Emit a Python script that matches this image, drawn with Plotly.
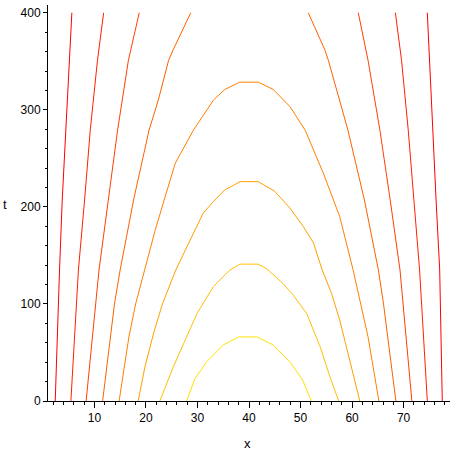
import plotly.graph_objects as go

# Contour lines (x, t); outermost (red) to innermost (yellow)
c1_left_x = [2.4, 2.95, 3.24, 3.76, 4.45, 5.05, 5.63]
c1_left_t = [0, 100, 135, 207, 279, 351, 400]
c1_right_x = [77.5, 77.1, 77.0, 76.3, 75.7, 75.1, 74.6]
c1_right_t = [0, 100, 135, 207, 279, 351, 400]

c2_left_x = [5.44, 6.5, 6.9, 8.1, 9.2, 10.6, 11.8]
c2_left_t = [0, 100, 135, 207, 279, 351, 400]
c2_right_x = [74.6, 73.5, 73.1, 72.0, 70.9, 69.6, 68.4]
c2_right_t = [0, 100, 135, 207, 279, 351, 400]

c3_left_x = [8.4, 10.2, 10.9, 12.7, 14.5, 16.6, 18.7]
c3_left_t = [0, 100, 135, 207, 279, 351, 400]
c3_right_x = [71.6, 69.9, 69.3, 67.4, 65.4, 63.1, 61.2]
c3_right_t = [0, 100, 135, 207, 279, 351, 400]

c4_left_x = [11.6, 13.9, 15.0, 17.6, 20.6, 22.4, 24.4, 25.3, 28.7]
c4_left_t = [0, 100, 135, 207, 279, 310, 351, 362, 400]
c4_right_x = [68.5, 66.1, 65.1, 62.4, 59.2, 57.6, 55.4, 54.7, 51.5]
c4_right_t = [0, 100, 135, 207, 279, 310, 351, 362, 400]

c5_x = [14.8, 16.7, 18.0, 19.7, 21.8, 23.7, 25.7, 29.2, 33.1, 35.3, 38.2, 41.8,
        44.7, 48.0, 50.9, 54.4, 57.6, 60.2, 63.1, 65.2]
c5_t = [0, 66, 100, 135, 176, 210, 245, 279, 310, 321, 328.5, 328.5,
        321, 303, 279, 235, 190, 135, 66, 0]

c6_x = [18.5, 19.8, 21.5, 23.2, 25.8, 28.9, 31.1, 33.1, 35.3, 38.3, 41.8,
        45.0, 47.9, 50.5, 52.5, 54.2, 56.0, 57.6, 61.5]
c6_t = [0, 35, 70, 100, 135, 169, 193.5, 205.5, 217.5, 226, 226,
        216, 199, 180, 163, 135, 111, 83.5, 0]

c7_x = [22.7, 25.3, 27.9, 29.9, 33.1, 36.3, 38.3, 41.8,
        43.5, 46.6, 48.6, 51.2, 53.8, 55.7, 57.4]
c7_t = [0, 35, 66, 90, 118, 135, 141, 141,
        136, 121, 109, 90, 56, 25, 0]

c8_x = [27.9, 29.5, 31.8, 35.0, 38.0, 41.6, 44.7, 47.9, 50.4, 52.1]
c8_t = [0, 23, 40.5, 57.7, 66, 66, 57.7, 40.5, 21.6, 0]

x_ticks = [10, 20, 30, 40, 50, 60, 70]
t_ticks = [0, 100, 200, 300, 400]

colors = ["#ff0000", "#ff2000", "#ff4000", "#ff6000",
          "#ff8000", "#ffa000", "#ffc000", "#ffe000"]

curves = [
    [(c1_left_x, c1_left_t), (c1_right_x, c1_right_t)],
    [(c2_left_x, c2_left_t), (c2_right_x, c2_right_t)],
    [(c3_left_x, c3_left_t), (c3_right_x, c3_right_t)],
    [(c4_left_x, c4_left_t), (c4_right_x, c4_right_t)],
    [(c5_x, c5_t)],
    [(c6_x, c6_t)],
    [(c7_x, c7_t)],
    [(c8_x, c8_t)],
]

fig = go.Figure()
for col, parts in zip(colors, curves):
    for xs, ts in parts:
        fig.add_trace(go.Scatter(x=xs, y=ts, mode="lines",
                                 line=dict(color=col, width=1),
                                 hoverinfo="skip", showlegend=False))

font = dict(family="Liberation Sans, Arial, sans-serif", size=12, color="black")
title_font = dict(family="Liberation Sans, Arial, sans-serif", size=13, color="black")

fig.update_layout(
    width=454, height=454,
    margin=dict(l=48, r=4, t=5, b=53),
    paper_bgcolor="white", plot_bgcolor="white",
    font=font,
    xaxis=dict(range=[1, 79], tickvals=x_ticks, showline=True, linecolor="black",
               linewidth=1, ticks="outside", ticklen=6, tickwidth=1, tickcolor="black",
               showgrid=False, zeroline=False, tickfont=font,
               minor=dict(ticks="outside", ticklen=3, dtick=2, tick0=0,
                          tickcolor="black", showgrid=False)),
    yaxis=dict(range=[0, 408], tickvals=t_ticks, showline=True, linecolor="black",
               linewidth=1, ticks="outside", ticklen=4, tickwidth=1, tickcolor="black",
               showgrid=False, zeroline=False, tickfont=font,
               minor=dict(ticks="outside", ticklen=2, dtick=20, tick0=0,
                          tickcolor="black", showgrid=False)),
    annotations=[
        dict(text="t", xref="paper", yref="paper", x=-0.107, y=0.495,
             showarrow=False, xanchor="center", yanchor="middle", font=title_font),
        dict(text="x", xref="paper", yref="paper", x=0.4975, y=-0.107,
             showarrow=False, xanchor="center", yanchor="middle", font=title_font),
    ],
)

fig.write_html(
    "out.html",
    config={"displayModeBar": False, "staticPlot": True},
    post_script="document.body.style.margin='0';document.body.style.overflow='hidden';",
)
